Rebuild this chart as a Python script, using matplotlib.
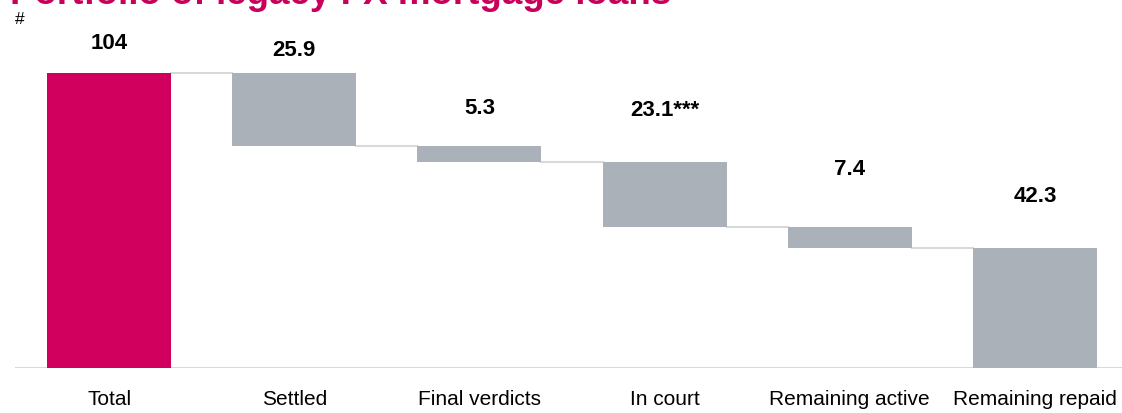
import matplotlib
matplotlib.use("Agg")
import matplotlib.pyplot as plt

categories = ["Total", "Settled", "Final verdicts", "In court", "Remaining active", "Remaining repaid"]
values = [104, 25.9, 5.3, 23.1, 7.4, 42.3]
value_labels = ["104", "25.9", "5.3", "23.1***", "7.4", "42.3"]
title = "Portfolio of legacy FX mortgage loans"
unit_label = "#"

MAGENTA = "#D1005F"
GREY = "#AAB1B8"
LINE = "#D9D9D9"

plt.rcParams['font.family'] = ['Liberation Sans', 'DejaVu Sans']

fig = plt.figure(figsize=(11.22, 4.13), dpi=100)
W, H = 1122, 413
ax = fig.add_axes([15 / W, (H - 368) / H, 1107 / W, (368 - 20) / H])

# waterfall geometry
bottoms, tops = [0], [values[0]]
level = values[0]
for v in values[1:]:
    bottoms.append(level - v)
    tops.append(level)
    level -= v

x = list(range(len(categories)))
width = 0.67
colors = [MAGENTA] + [GREY] * (len(categories) - 1)
heights = [t - b for t, b in zip(tops, bottoms)]
ax.bar(x, heights, bottom=bottoms, width=width, color=colors, zorder=2)

# connectors: from the end level of bar i to the start of bar i+1
for i in range(len(categories) - 1):
    lvl = tops[0] if i == 0 else bottoms[i]
    ax.plot([x[i] + width / 2, x[i + 1] - width / 2], [lvl, lvl], color=LINE, lw=1.5, zorder=1)

ax.axhline(0, color=LINE, lw=1.5, zorder=1)

label_offsets = [30, 23, 38, 51, 58, 52]  # pixels above bar top
for xi, t, lab, off in zip(x, tops, value_labels, label_offsets):
    ax.annotate(lab, (xi, t), xytext=(0, off * 0.72), textcoords="offset points",
                ha="center", va="center", fontsize=16, fontweight="bold", color="black",
                annotation_clip=False)

ax.set_xlim(-0.508, 5.47)
ax.set_ylim(0, 122.7)
ax.set_xticks(x)
ax.set_xticklabels(categories, fontsize=15)
ax.tick_params(axis="x", length=0, pad=16)
ax.set_yticks([])
for s in ax.spines.values():
    s.set_visible(False)

fig.text(10 / W, 1 - 4.5 / H, title, fontsize=26.5, fontweight="bold", color="#C8005A",
         ha="left", va="baseline")
fig.text(15 / W, 1 - 19.5 / H, unit_label, fontsize=12.5, ha="left", va="center")

fig.savefig("out.png", dpi=100)
